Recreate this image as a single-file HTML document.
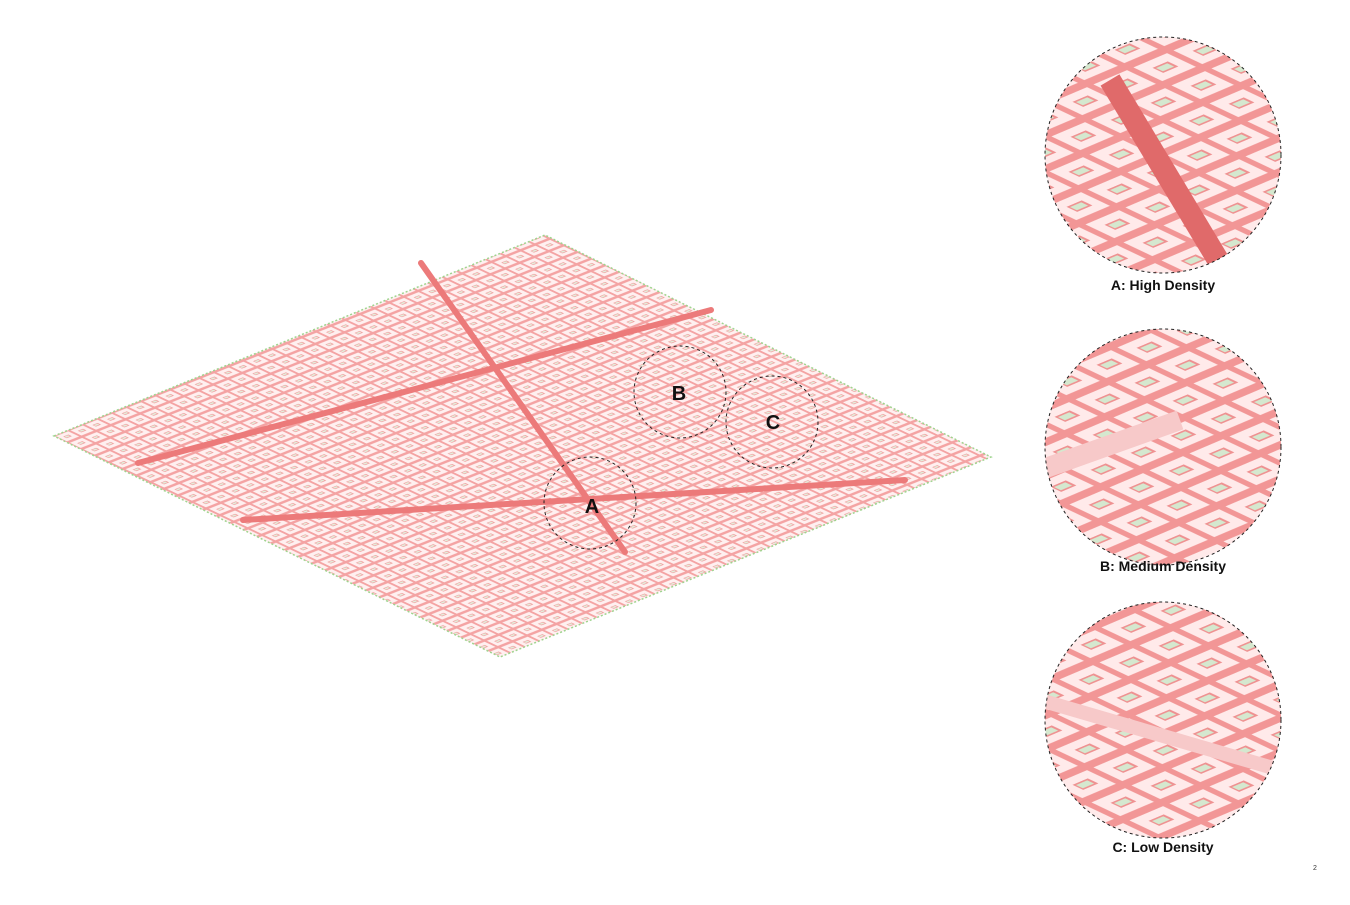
<!DOCTYPE html>
<html><head><meta charset="utf-8"><style>
body{margin:0;background:#fff;width:1350px;height:900px;overflow:hidden;font-family:"Liberation Sans",sans-serif}
</style></head><body>
<svg width="1350" height="900">
<defs>
<pattern id="blk" width="1" height="1" patternUnits="userSpaceOnUse" patternTransform="matrix(14.6,-5.8,13.9,6.6,54,436)">
<rect width="1" height="1" fill="#f4a3a3"/>
<rect x="0.06" y="0.08" width="0.84" height="0.78" fill="#fff0f0"/>
<rect x="0.3" y="0.35" width="0.35" height="0.25" fill="#f19a9a"/>
<rect x="0.34" y="0.4" width="0.25" height="0.14" fill="#e3efdd"/>
</pattern>
<pattern id="blk2" width="1" height="1" patternUnits="userSpaceOnUse" patternTransform="matrix(40,-17,38,18,0,0)">
<rect width="1" height="1" fill="#f29696"/>
<rect x="0.06" y="0.08" width="0.84" height="0.76" fill="#ffeaea"/>
<rect x="0.3" y="0.33" width="0.38" height="0.28" fill="#ef9191"/>
<rect x="0.34" y="0.38" width="0.28" height="0.18" fill="#d5e8cf"/>
</pattern>
<clipPath id="ca"><circle cx="1163" cy="155" r="118"/></clipPath>
<clipPath id="cb"><circle cx="1163" cy="447" r="118"/></clipPath>
<clipPath id="cc"><circle cx="1163" cy="720" r="118"/></clipPath>
</defs>
<polygon points="54,436 545,235 991,457 500,657" fill="url(#blk)" stroke="#9fd48f" stroke-width="1.5" stroke-dasharray="2,2"/>
<g stroke="#ec7a7a" stroke-linecap="round">
<line x1="421" y1="263" x2="625" y2="552" stroke-width="6"/>
<line x1="243" y1="520" x2="905" y2="480" stroke-width="6"/>
<line x1="138" y1="463" x2="711" y2="310" stroke-width="6"/>
</g>
<g fill="none" stroke="#222" stroke-dasharray="3,3">
<circle cx="590" cy="503" r="46"/><circle cx="680" cy="392" r="46"/><circle cx="772" cy="422" r="46"/>
</g>
<g font-size="20" font-weight="bold" fill="#111" text-anchor="middle">
<text x="592" y="513">A</text>
<text x="679" y="400">B</text>
<text x="773" y="429">C</text>
</g>
<g clip-path="url(#ca)"><rect x="1040" y="30" width="250" height="250" fill="url(#blk2)"/>
<line x1="1110" y1="80" x2="1230" y2="280" stroke="#e06a6a" stroke-width="22"/></g>
<g clip-path="url(#cb)"><rect x="1040" y="320" width="250" height="250" fill="url(#blk2)"/>
<line x1="1040" y1="470" x2="1180" y2="420" stroke="#f7c9c9" stroke-width="20"/></g>
<g clip-path="url(#cc)"><rect x="1040" y="595" width="250" height="250" fill="url(#blk2)"/>
<line x1="1040" y1="700" x2="1280" y2="770" stroke="#f7c9c9" stroke-width="14"/></g>
<g fill="none" stroke="#222" stroke-dasharray="3,3">
<circle cx="1163" cy="155" r="118"/><circle cx="1163" cy="447" r="118"/><circle cx="1163" cy="720" r="118"/>
</g>
<g font-size="14" font-weight="bold" fill="#111" text-anchor="middle">
<text x="1163" y="290">A: High Density</text>
<text x="1163" y="571">B: Medium Density</text>
<text x="1163" y="852">C: Low Density</text>
</g>
<text x="1313" y="870" font-size="7" fill="#333">2</text>
</svg>
</body></html>
